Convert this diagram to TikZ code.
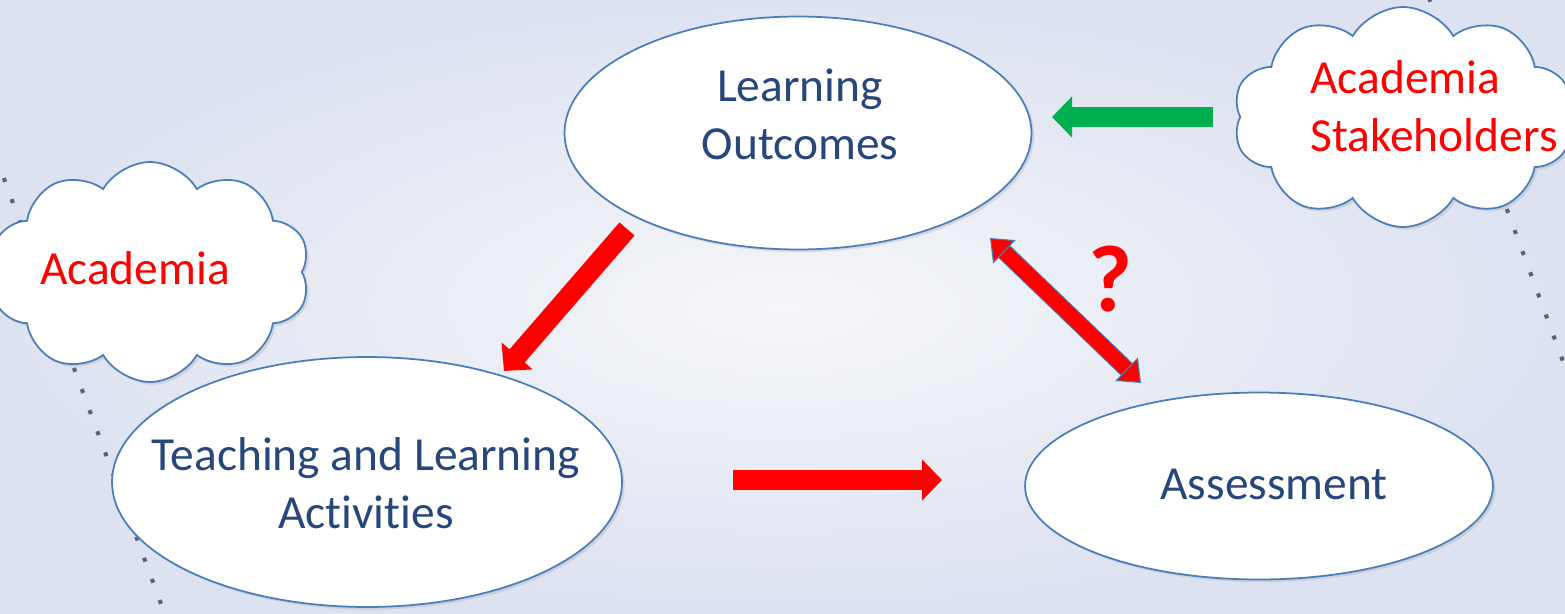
\documentclass[tikz,border=0pt]{standalone}
\usepackage{fontspec}
\setmainfont{Carlito}[Ligatures=NoCommon]
\usepackage{xcolor}
\usetikzlibrary{positioning,shapes,shapes.symbols,arrows.meta,shadows}
\definecolor{ppblue}{HTML}{4A7EBB}
\definecolor{pptext}{HTML}{27467A}
\definecolor{ppgreen}{HTML}{00B050}
\definecolor{bgouter}{HTML}{DCE2F0}
\definecolor{bginner}{HTML}{F5F6F8}
\definecolor{dotcol}{HTML}{5E5E82}

\begin{document}
\begin{tikzpicture}[x=0.02cm,y=-0.02cm,
  oval/.style={ellipse,draw=ppblue,line width=1pt,fill=white,inner sep=0pt,
    drop shadow={shadow xshift=1.5pt,shadow yshift=-1.5pt,opacity=0.2}},
  puff/.style={cloud,cloud puffs=10,cloud puff arc=120,cloud ignores aspect,draw=ppblue,
    line width=1pt,fill=white,inner sep=0pt,
    drop shadow={shadow xshift=1.5pt,shadow yshift=-1.5pt,opacity=0.2}},
  ovaltext/.style={text=pptext,font=\fontsize{27}{33}\selectfont,align=center},
  cloudtext/.style={text=red,font=\fontsize{27}{33}\selectfont,align=left},
  fat/.style={line width=0.4cm,-{Triangle[length=0.4cm,width=0.8cm]}},
  dots/.style={dotcol,line width=2.3pt,dash pattern=on 2.3pt off 10.5pt}]
\fill[inner color=bginner,outer color=bgouter] (0,0) rectangle (1565,613);
\useasboundingbox (0,0) rectangle (1565,613);
% background dotted lines
\draw[dots] (-4,157) -- (167,620);
\draw[dots] (1429,-2) -- (1575,394);
% clouds
\node[puff,minimum width=6.4cm,minimum height=4.4cm] (ac) at (150,272) {};
\node[cloudtext] (ac-t) at (135,268) {Academia};
\node[puff,minimum width=6.8cm,minimum height=4.4cm] (st) at (1403,117) {};
\node[cloudtext] (st-t) at (1434,106) {Academia\\Stakeholders};
% ovals
\node[oval,minimum width=9.34cm,minimum height=4.66cm] (lo) at (798,133) {};
\node[ovaltext] (lo-t) at (800,114) {Learning\\Outcomes};
\node[oval,minimum width=10.2cm,minimum height=5cm] (tla) at (367,482) {};
\node[ovaltext] (tla-t) at (366,483) {Teaching and Learning\\Activities};
\node[oval,minimum width=9.36cm,minimum height=3.74cm] (as) at (1259,486) {};
\node[ovaltext] (as-t) at (1274,484) {Assessment};
% arrows
\coordinate (g1) at (1213,117);
\coordinate (g2) at (1052,117);
\coordinate (r1) at (627,229);
\coordinate (r2) at (504,371);
\coordinate (h1) at (733,480);
\coordinate (h2) at (942,480);
\coordinate (d1) at (990,238);
\coordinate (d2) at (1141,383);
\draw[fat,ppgreen] (g1) -- (g2);
\draw[fat,red] (r1) -- (r2);
\draw[fat,red] (h1) -- (h2);
\draw[draw=ppblue,line width=0.6pt,double=red,double distance=0.3cm,
  {Triangle[length=0.4cm,width=0.65cm,fill=red]}-{Triangle[length=0.4cm,width=0.65cm,fill=red]}] (d1) -- (d2);
\node[text=red,font=\fontsize{54}{60}\selectfont\bfseries] (q) at (1110,279) {?};
\end{tikzpicture}
\end{document}
